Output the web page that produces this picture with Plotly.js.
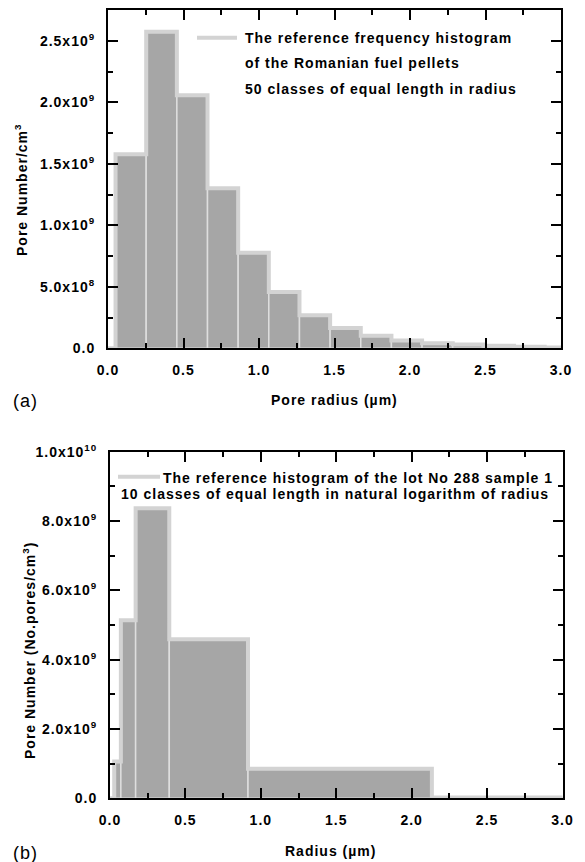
<!DOCTYPE html>
<html>
<head>
<meta charset="utf-8">
<script src="https://cdn.plot.ly/plotly-3.0.1.min.js"></script>
<style>
html,body{margin:0;padding:0;background:#fff;}
#chart{width:585px;height:862px;}
svg text{letter-spacing:1px;}
</style>
</head>
<body>
<div id="chart"></div>
<script>
// ---- Data ----
// (a) 50 classes of equal length in radius (bin edges in micrometres, visible part)
const edgesA = [0.05, 0.253, 0.456, 0.659, 0.862, 1.065, 1.268, 1.471, 1.674, 1.877, 2.08, 2.283, 2.486, 2.689, 2.892, 3.095];
const countsA = [1.577e9, 2.573e9, 2.058e9, 1.301e9, 0.776e9, 0.457e9, 0.268e9, 0.165e9, 0.103e9, 0.064e9, 0.042e9, 0.030e9, 0.020e9, 0.012e9, 0.006e9];
// (b) 10 classes of equal length in ln(radius) (visible part)
const edgesB = [0.028, 0.072, 0.17, 0.393, 0.915, 2.134, 4.97];
const countsB = [1.06e9, 5.14e9, 8.37e9, 4.59e9, 0.855e9, 0.02e9];

const xTickVals = [0, 0.5, 1.0, 1.5, 2.0, 2.5, 3.0];
const xTickText = ['0.0', '0.5', '1.0', '1.5', '2.0', '2.5', '3.0'];
const yTickValsA = [0, 5e8, 1e9, 1.5e9, 2e9, 2.5e9];
const yTickTextA = ['0.0', '5.0x10<sup>8</sup>', '1.0x10<sup>9</sup>', '1.5x10<sup>9</sup>', '2.0x10<sup>9</sup>', '2.5x10<sup>9</sup>'];
const yTickValsB = [0, 2e9, 4e9, 6e9, 8e9, 1e10];
const yTickTextB = ['0.0', '2.0x10<sup>9</sup>', '4.0x10<sup>9</sup>', '6.0x10<sup>9</sup>', '8.0x10<sup>9</sup>', '1.0x10<sup>10</sup>'];

const legendA = ['The reference frequency histogram', 'of the Romanian fuel pellets', '50 classes of equal length in radius'];
const legendB = ['The reference histogram of the lot No 288 sample 1', '10 classes of equal length in natural logarithm of radius'];

// ---- Styles ----
const FILL = '#a6a6a6';
const SEP = '#dedede';
const STEP = '#d3d3d3';
const FONT = 'Liberation Sans, Arial, Helvetica, sans-serif';
const W = 585, H = 862;
const px = v => v / W;
const py = v => 1 - v / H;

function barTrace(edges, counts, xa, ya) {
  const centers = counts.map((_, i) => (edges[i] + edges[i + 1]) / 2);
  const widths = counts.map((_, i) => edges[i + 1] - edges[i]);
  return {type: 'bar', x: centers, y: counts, width: widths, xaxis: xa, yaxis: ya,
    marker: {color: FILL, line: {color: SEP, width: 1.5}}, hoverinfo: 'skip', showlegend: false};
}
function stepTrace(edges, counts, xa, ya) {
  const n = counts.length;
  const x = [0].concat(edges.slice(0, n + 1));
  const y = [0].concat(counts).concat([counts[n - 1]]);
  return {type: 'scatter', mode: 'lines', x: x, y: y, xaxis: xa, yaxis: ya,
    line: {shape: 'hv', color: STEP, width: 4}, hoverinfo: 'skip', showlegend: false};
}

const data = [
  barTrace(edgesA, countsA, 'x', 'y'),
  stepTrace(edgesA, countsA, 'x', 'y'),
  barTrace(edgesB, countsB, 'x2', 'y2'),
  stepTrace(edgesB, countsB, 'x2', 'y2')
];

function xAxis(domain, anchor) {
  return {domain: domain, anchor: anchor, range: [0, 3], tickmode: 'array', tickvals: xTickVals, ticktext: xTickText,
    ticks: 'inside', ticklen: 10, tickwidth: 2, tickcolor: '#000', showline: true, linewidth: 2, linecolor: '#000',
    mirror: 'ticks', showgrid: false, zeroline: false, ticklabelstandoff: 8,
    tickfont: {family: FONT, size: 14, color: '#000', weight: 'bold'},
    minor: {tickmode: 'linear', tick0: 0, dtick: 0.25, ticks: 'inside', ticklen: 5, tickwidth: 2, tickcolor: '#000', showgrid: false}};
}
function yAxis(domain, anchor, range, vals, text, minorStep) {
  return {domain: domain, anchor: anchor, range: range, tickmode: 'array', tickvals: vals, ticktext: text,
    ticks: 'inside', ticklen: 10, tickwidth: 2, tickcolor: '#000', showline: true, linewidth: 2, linecolor: '#000',
    mirror: 'ticks', showgrid: false, zeroline: false, ticklabelstandoff: 8,
    tickfont: {family: FONT, size: 14, color: '#000', weight: 'bold'},
    minor: {tickmode: 'linear', tick0: 0, dtick: minorStep, ticks: 'inside', ticklen: 5, tickwidth: 2, tickcolor: '#000', showgrid: false}};
}

const boldFont = s => ({family: FONT, size: s, color: '#000', weight: 'bold'});
function ann(text, x, y, opts) {
  return Object.assign({text: text, xref: 'paper', yref: 'paper', x: px(x), y: py(y), showarrow: false,
    xanchor: 'left', yanchor: 'middle', font: boldFont(14)}, opts || {});
}

const annotations = [
  ann(legendA[0], 243, 37.5),
  ann(legendA[1], 243, 62.8),
  ann(legendA[2], 243, 88.8),
  ann(legendB[0], 161, 477.8),
  ann(legendB[1], 118.5, 494.2),
  ann('Pore Number/cm<sup>3</sup>', 21, 190, {xanchor: 'center', textangle: -90, font: boldFont(14)}),
  ann('Pore radius (µm)', 334, 400, {xanchor: 'center', font: boldFont(14)}),
  ann('Pore Number (No.pores/cm<sup>3</sup>)', 29, 651, {xanchor: 'center', textangle: -90, font: boldFont(14)}),
  ann('Radius (µm)', 330, 851, {xanchor: 'center', font: boldFont(14)}),
  ann('(a)', 11, 401, {font: {family: FONT, size: 18, color: '#000', weight: 'normal'}}),
  ann('(b)', 11, 853, {font: {family: FONT, size: 18, color: '#000', weight: 'normal'}})
];

const shapes = [
  {type: 'line', xref: 'paper', yref: 'paper', x0: px(197), x1: px(237), y0: py(37.7), y1: py(37.7), line: {color: STEP, width: 4}},
  {type: 'line', xref: 'paper', yref: 'paper', x0: px(118), x1: px(160), y0: py(476.7), y1: py(476.7), line: {color: STEP, width: 4}}
];

const layout = {
  width: W, height: H, margin: {l: 0, r: 0, t: 0, b: 0},
  paper_bgcolor: '#fff', plot_bgcolor: '#fff', showlegend: false,
  font: {family: FONT, size: 14, color: '#000'},
  xaxis: xAxis([px(108), px(561)], 'y'),
  yaxis: yAxis([py(348.3), py(10)], 'x', [0, 2.75e9], yTickValsA, yTickTextA, 2.5e8),
  xaxis2: xAxis([px(110), px(562.5)], 'y2'),
  yaxis2: yAxis([py(798.3), py(451.7)], 'x2', [0, 1e10], yTickValsB, yTickTextB, 1e9),
  annotations: annotations,
  shapes: shapes
};

Plotly.newPlot('chart', data, layout, {displayModeBar: false, staticPlot: true});
</script>
</body>
</html>
